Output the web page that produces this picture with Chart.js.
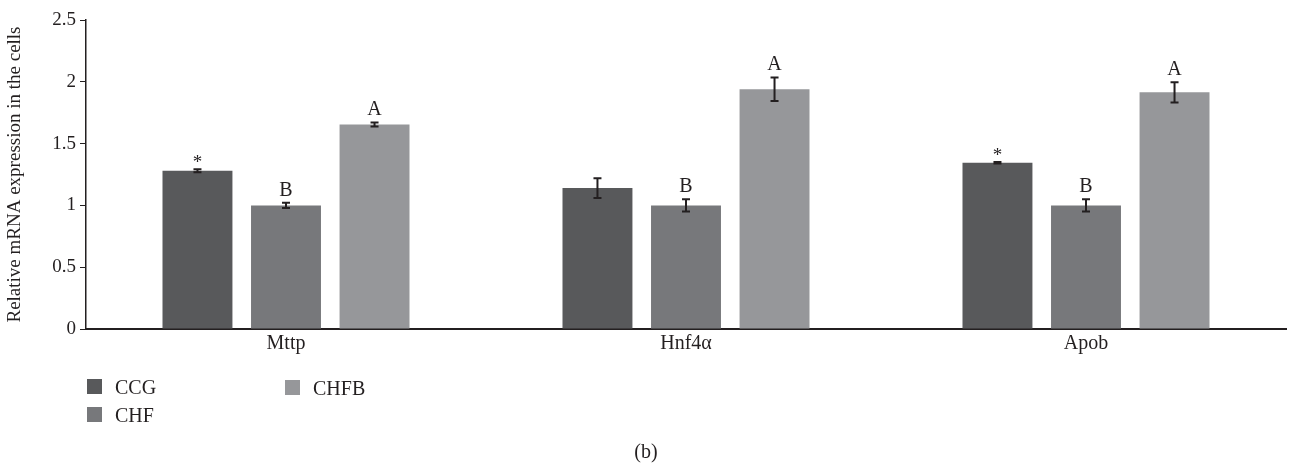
<!DOCTYPE html>
<html>
<head>
<meta charset="utf-8">
<script src="https://cdn.jsdelivr.net/npm/chart.js@4.4.1/dist/chart.umd.min.js"></script>
<style>
  html, body { margin: 0; padding: 0; background: #fff; }
  #wrap { width: 1289px; height: 468px; position: relative; }
</style>
</head>
<body>
<div id="wrap"><canvas id="c"></canvas></div>
<script>
// Genes on the x axis
const genes = ['Mttp', 'Hnf4α', 'Apob'];
// Group names
const groups = ['CCG', 'CHF', 'CHFB'];
// Mean relative expression per group (one value per gene)
const ccgValues = [1.28, 1.14, 1.345];
const chfValues = [1.0, 1.0, 1.0];
const chfbValues = [1.655, 1.94, 1.915];
// Standard errors
const ccgErrors = [0.012, 0.08, 0.006];
const chfErrors = [0.022, 0.05, 0.05];
const chfbErrors = [0.016, 0.095, 0.082];
// Significance marks above each bar
const ccgMarks = ['*', '', '*'];
const chfMarks = ['B', 'B', 'B'];
const chfbMarks = ['A', 'A', 'A'];
// Y tick values and their labels
const yTicks = [0, 0.5, 1, 1.5, 2, 2.5];
const yTickLabels = ['0', '0.5', '1', '1.5', '2', '2.5'];

const colors = ['#58595b', '#77787b', '#96979a'];
const textColor = '#231f20';
const serif = '"Liberation Serif", "Times New Roman", serif';

const seriesValues = [ccgValues, chfValues, chfbValues];
const seriesErrors = [ccgErrors, chfErrors, chfbErrors];
const seriesMarks = [ccgMarks, chfMarks, chfbMarks];

const datasets = groups.map((g, i) => ({
  label: g,
  data: seriesValues[i],
  errors: seriesErrors[i],
  marks: seriesMarks[i],
  backgroundColor: colors[i],
  borderWidth: 0,
  barPercentage: 0.79,
  categoryPercentage: 0.664
}));

// Error bars plus the letter / asterisk annotations
const errorBarPlugin = {
  id: 'errorBars',
  afterDatasetsDraw(chart) {
    const ctx = chart.ctx;
    const y = chart.scales.y;
    ctx.save();
    chart.data.datasets.forEach((ds, di) => {
      const meta = chart.getDatasetMeta(di);
      meta.data.forEach((bar, i) => {
        const v = ds.data[i], e = ds.errors[i];
        const x = bar.x;
        const yTop = y.getPixelForValue(v + e);
        const yBot = y.getPixelForValue(v - e);
        ctx.strokeStyle = '#231f20';
        ctx.lineWidth = 2;
        ctx.beginPath();
        ctx.moveTo(x, yTop); ctx.lineTo(x, yBot);
        ctx.moveTo(x - 4, yTop); ctx.lineTo(x + 4, yTop);
        ctx.moveTo(x - 4, yBot); ctx.lineTo(x + 4, yBot);
        ctx.stroke();
        const m = ds.marks[i];
        if (m) {
          ctx.fillStyle = textColor;
          ctx.textAlign = 'center';
          ctx.textBaseline = 'alphabetic';
          ctx.font = (m === '*' ? '19px ' : '20px ') + serif;
          ctx.fillText(m, x, yTop - (m === '*' ? 1 : 7));
        }
      });
    });
    ctx.restore();
  }
};

// Two-column legend below the axis, plus the panel caption
const legendPlugin = {
  id: 'colLegend',
  afterDraw(chart) {
    const ctx = chart.ctx;
    ctx.save();
    ctx.font = '20px ' + serif;
    ctx.textBaseline = 'alphabetic';
    ctx.textAlign = 'left';
    const spots = [[87, 379], [87, 407], [285, 380]];
    chart.data.datasets.forEach((ds, i) => {
      const [sx, sy] = spots[i];
      ctx.fillStyle = ds.backgroundColor;
      ctx.fillRect(sx, sy, 15, 15);
      ctx.fillStyle = textColor;
      ctx.fillText(ds.label, sx + 28, sy + 15);
    });
    ctx.textAlign = 'center';
    ctx.fillText('(b)', 646, 458);
    ctx.restore();
  }
};

new Chart(document.getElementById('c'), {
  type: 'bar',
  data: { labels: genes, datasets },
  plugins: [errorBarPlugin, legendPlugin],
  options: {
    responsive: true,
    maintainAspectRatio: false,
    animation: false,
    layout: { padding: { top: 20, right: 3, left: 0, bottom: 0 } },
    plugins: { legend: { display: false }, tooltip: { enabled: false } },
    scales: {
      x: {
        grid: { display: false, drawTicks: false },
        border: { display: true, color: '#231f20', width: 2 },
        ticks: { color: textColor, font: { family: serif, size: 20 }, padding: 3 },
        afterFit(s) { s.height = 139; }
      },
      y: {
        min: 0, max: 2.5,
        afterBuildTicks(s) { s.ticks = yTicks.map(v => ({ value: v })); },
        grid: { display: true, drawOnChartArea: false, drawTicks: true, tickLength: 6, tickColor: '#231f20', tickWidth: 1 },
        border: { display: true, color: '#231f20', width: 1.5 },
        ticks: {
          color: textColor, font: { family: serif, size: 19 }, padding: 4,
          callback: (v, i) => yTickLabels[i]
        },
        title: { display: true, text: 'Relative mRNA expression in the cells', color: textColor, font: { family: serif, size: 19 }, padding: { top: 4, bottom: 2 } },
        afterFit(s) { s.width = 86; }
      }
    }
  }
});
</script>
</body>
</html>
